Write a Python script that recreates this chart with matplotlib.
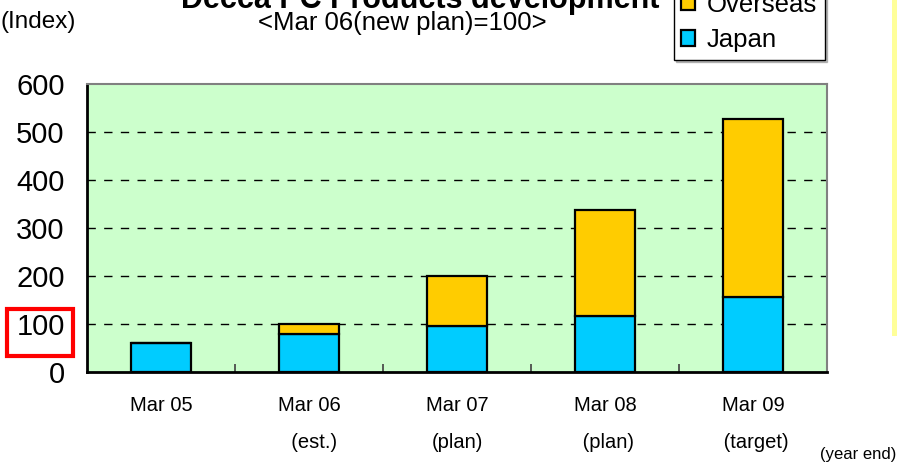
import numpy as np
import matplotlib
matplotlib.use("Agg")
import matplotlib.pyplot as plt
from matplotlib.patches import Rectangle

plt.rcParams['font.family'] = ['Liberation Sans', 'DejaVu Sans']

# index values, Mar 06 (new plan) = 100
years = ['Mar 05', 'Mar 06\n  (est.)', 'Mar 07\n(plan)', 'Mar 08\n (plan)', 'Mar 09\n (target)']
japan = [60, 80, 95, 117, 157]
overseas = [0, 20, 105, 220, 370]

japan_color = '#00CCFF'
overseas_color = '#FFCC00'

W, H = 897, 466
fig = plt.figure(figsize=(W / 100, H / 100), dpi=100)
ax = fig.add_axes([87 / W, 94 / H, 740 / W, 288 / H])
ax.set_facecolor('#CCFFCC')

x = np.arange(len(years))
bw = 0.4
ax.bar(x, japan, bw, color=japan_color, edgecolor='black', linewidth=1.6,
       label='Japan', zorder=3)
ax.bar(x, overseas, bw, bottom=japan, color=overseas_color, edgecolor='black',
       linewidth=1.6, label='Overseas', zorder=3)

ax.set_xlim(-0.5, len(years) - 0.5)
ax.set_ylim(0, 600)
ax.set_yticks(range(0, 601, 100))
ax.tick_params(axis='y', length=0, labelsize=21, pad=16)

# category labels drawn as text, ticks sit between categories
ax.set_xticks(np.arange(0.5, len(years) - 0.5))
ax.set_xticklabels([])
ax.tick_params(axis='x', direction='in', length=6, width=1.2, color='#404040')
for i, lab in enumerate(years):
    ax.text(i, -50, lab, ha='center', va='top', fontsize=14.5,
            linespacing=2.2, clip_on=False)

for v in range(100, 600, 100):
    ax.axhline(v, color='black', linewidth=1.0, linestyle=(0, (6, 6)), zorder=1)

for side in ['left', 'bottom']:
    ax.spines[side].set_color('black')
    ax.spines[side].set_linewidth(2)
for side in ['top', 'right']:
    ax.spines[side].set_color('#808080')
    ax.spines[side].set_linewidth(1.5)

handles, labels = ax.get_legend_handles_labels()
leg = fig.legend(handles[::-1], labels[::-1], loc='lower right',
                 bbox_to_anchor=(825 / W, 1 - 60 / H), fontsize=18.5,
                 frameon=True, fancybox=False,
                 shadow={'ox': 1.5, 'oy': -1.5, 'shade': 0.5},
                 handlelength=0.55, handleheight=0.55, handletextpad=0.45,
                 labelspacing=0.45, borderpad=0.3, borderaxespad=0)
leg.get_frame().set_edgecolor('black')
leg.get_frame().set_linewidth(1.0)

fig.text(420 / W, 1 - 8 / H, 'Decca PC Products development', ha='center',
         va='baseline', fontsize=22, fontweight='bold')
fig.text(402 / W, 1 - 23 / H, '<Mar 06(new plan)=100>', ha='center',
         va='center', fontsize=18.5)
fig.text(0, 1 - 22 / H, '(Index)', ha='left', va='center', fontsize=17.5)
fig.text(1 - 1 / W, 12 / H, '(year end)', ha='right', va='center', fontsize=12)

# highlight box around the 100 label
fig.add_artist(Rectangle((7 / W, 110 / H), 66 / W, 47 / H, fill=False,
                         edgecolor='#FF0000', linewidth=3,
                         transform=fig.transFigure))
# yellow strip at the right edge
fig.add_artist(Rectangle((892 / W, 130 / H), 5 / W, 336 / H, facecolor='#FFFF99',
                         edgecolor='none', transform=fig.transFigure))

fig.savefig('out.png', dpi=100)
